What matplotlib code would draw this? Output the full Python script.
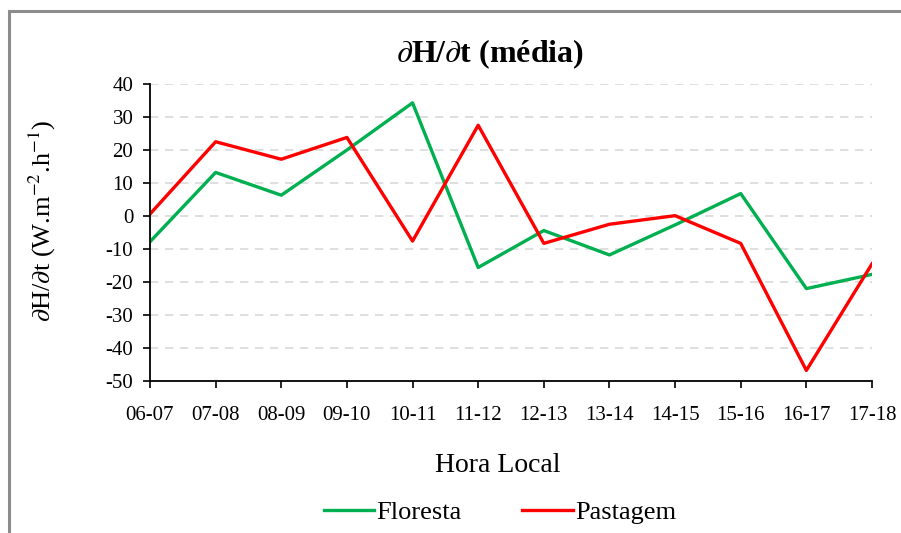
import numpy as np
import matplotlib
matplotlib.use('Agg')
import matplotlib.pyplot as plt
from matplotlib.patches import Rectangle

plt.rcParams.update({'font.family': ['Liberation Serif', 'DejaVu Serif'],
                     'mathtext.fontset': 'stix'})

horas = ['06-07', '07-08', '08-09', '09-10', '10-11', '11-12',
         '12-13', '13-14', '14-15', '15-16', '16-17', '17-18']
floresta = [-7.8, 13.2, 6.3, 20.0, 34.3, -15.6, -4.4, -11.8, -2.7, 6.8, -22.0, -17.7]
pastagem = [0.6, 22.5, 17.2, 23.8, -7.6, 27.5, -8.3, -2.5, 0.1, -8.3, -46.8, -14.5]

fig = plt.figure(figsize=(9.01, 5.33), dpi=100)
ax = fig.add_axes([150/901, 1 - 381/533, 722/901, 297/533])

x = np.arange(len(horas))
ax.plot(x, floresta, color='#00b050', lw=2.4, label='Floresta')
ax.plot(x, pastagem, color='#ff0000', lw=2.4, label='Pastagem')

ax.set_xlim(0, len(horas) - 1)
ax.set_ylim(-50, 40)
ax.set_yticks(np.arange(-50, 41, 10))
ax.set_yticklabels([str(v) for v in range(-50, 41, 10)])
ax.set_xticks(x)
ax.set_xticklabels(horas)
ax.tick_params(axis='both', labelsize=15, direction='out', length=5, width=1.2, colors='black')
ax.tick_params(axis='x', pad=13)
ax.tick_params(axis='y', pad=7)

for v in range(-40, 41, 10):
    ax.axhline(v, color='#d9d9d9', lw=1.2, ls=(0, (5, 4)), zorder=0)

for s in ['top', 'right']:
    ax.spines[s].set_visible(False)
for s in ['left', 'bottom']:
    ax.spines[s].set_linewidth(1.3)
    ax.spines[s].set_color('black')

fig.text(490/901, 1 - 54/533, r'$\partial$H/$\partial$t (média)', fontsize=23, fontweight='bold',
         ha='center', va='center')
fig.text(498/901, 1 - 465/533, 'Hora Local', fontsize=20, ha='center', va='center')
fig.text(42/901, 1 - 221/533, r'$\partial$H/$\partial$t (W.m$^{-2}$.h$^{-1}$)', fontsize=19,
         rotation=90, ha='center', va='center')

fig.legend(loc='center', bbox_to_anchor=(500/901, 1 - 512/533), ncol=2, frameon=False,
           fontsize=19, handlelength=1.9, handletextpad=0.1, columnspacing=2.3)

fig.patches.append(Rectangle((9/901, -0.1), 1.2, 1 - 11/533 + 0.1, transform=fig.transFigure,
                             fill=False, edgecolor='#8c8c8c', lw=2.2, zorder=10))

fig.savefig('out.png', dpi=100)
